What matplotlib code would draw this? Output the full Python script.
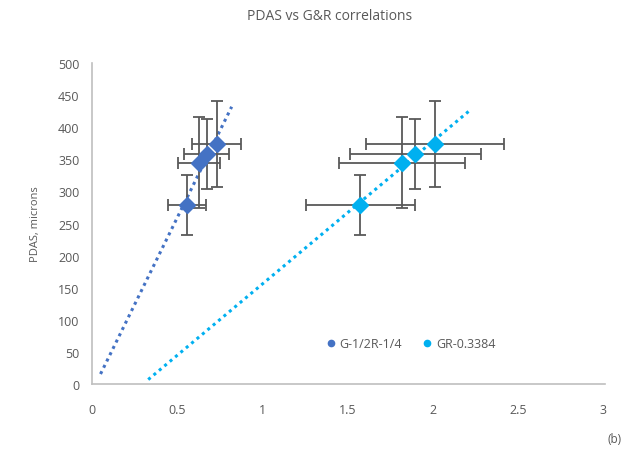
import numpy as np
import matplotlib
matplotlib.use("Agg")
import matplotlib.pyplot as plt
from matplotlib.lines import Line2D

plt.rcParams['font.family'] = ['Open Sans', 'DejaVu Sans']

# Data
pdas = [279, 345, 358, 374]
pdas_err = [47, 71, 54, 67]

s1_name = "G-1/2R-1/4"
s1_x = [0.558, 0.630, 0.673, 0.732]
s1_xerr = [0.11, 0.123, 0.13, 0.145]

s2_name = "GR-0.3384"
s2_x = [1.574, 1.818, 1.898, 2.012]
s2_xerr = [0.32, 0.37, 0.385, 0.405]

s1_trend_range = [0.05, 0.82]
s2_trend_range = [0.33, 2.22]

x_ticks = [0, 0.5, 1, 1.5, 2, 2.5, 3]
x_tick_labels = ["0", "0.5", "1", "1.5", "2", "2.5", "3"]
y_ticks = list(range(0, 501, 50))

c1 = "#4472C4"
c2 = "#00B0F0"
err_c = "#595959"
txt_c = "#595959"

fig = plt.figure(figsize=(6.32, 4.56), dpi=100)
ax = fig.add_axes([92/632, 1-385/456, (603-92)/632, (385-64)/456])

for xs, xe, col, rng in [(s1_x, s1_xerr, c1, s1_trend_range), (s2_x, s2_xerr, c2, s2_trend_range)]:
    k, b = np.polyfit(xs, pdas, 1)
    tx = np.array(rng)
    ax.plot(tx, k*tx + b, color=col, lw=2.2, linestyle=(0, (1, 1.3)), zorder=2)
    ax.errorbar(xs, pdas, xerr=xe, yerr=pdas_err, fmt='none', ecolor=err_c,
                elinewidth=1.3, capsize=4.5, capthick=1.3, zorder=3)
    ax.plot(xs, pdas, linestyle='none', marker='D', markersize=8.5, color=col,
            markeredgecolor=col, zorder=4)

ax.set_xlim(0, 3)
ax.set_ylim(0, 500)
ax.set_xticks(x_ticks)
ax.set_xticklabels(x_tick_labels)
ax.set_yticks(y_ticks)
ax.tick_params(length=0, labelsize=9, labelcolor=txt_c, pad=14)
ax.tick_params(axis='y', pad=9)
for s in ['top', 'right']:
    ax.spines[s].set_visible(False)
for s in ['left', 'bottom']:
    ax.spines[s].set_color('#BFBFBF')
    ax.spines[s].set_linewidth(1.2)
ax.spines['bottom'].set_bounds(0, 3.01)

ax.set_ylabel("PDAS, microns", color=txt_c, fontsize=8, labelpad=12)
fig.text(330/632, 1-16/456, "PDAS vs G&R correlations", ha='center', va='center',
         color=txt_c, fontsize=10)
fig.text(622/632, 1-440/456, "(b)", ha='right', va='center', color=txt_c, fontsize=8.5)

handles = [Line2D([], [], linestyle='none', marker='o', markersize=4.5, color=c1),
           Line2D([], [], linestyle='none', marker='o', markersize=4.5, color=c2)]
leg = ax.legend(handles, [s1_name, s2_name], loc='center',
                bbox_to_anchor=((410-92)/511, (385-345)/321), ncol=2, frameon=False,
                fontsize=9, handletextpad=0.2, columnspacing=1.5, handlelength=1)
for t in leg.get_texts():
    t.set_color(txt_c)

fig.savefig("out.png", dpi=100)
